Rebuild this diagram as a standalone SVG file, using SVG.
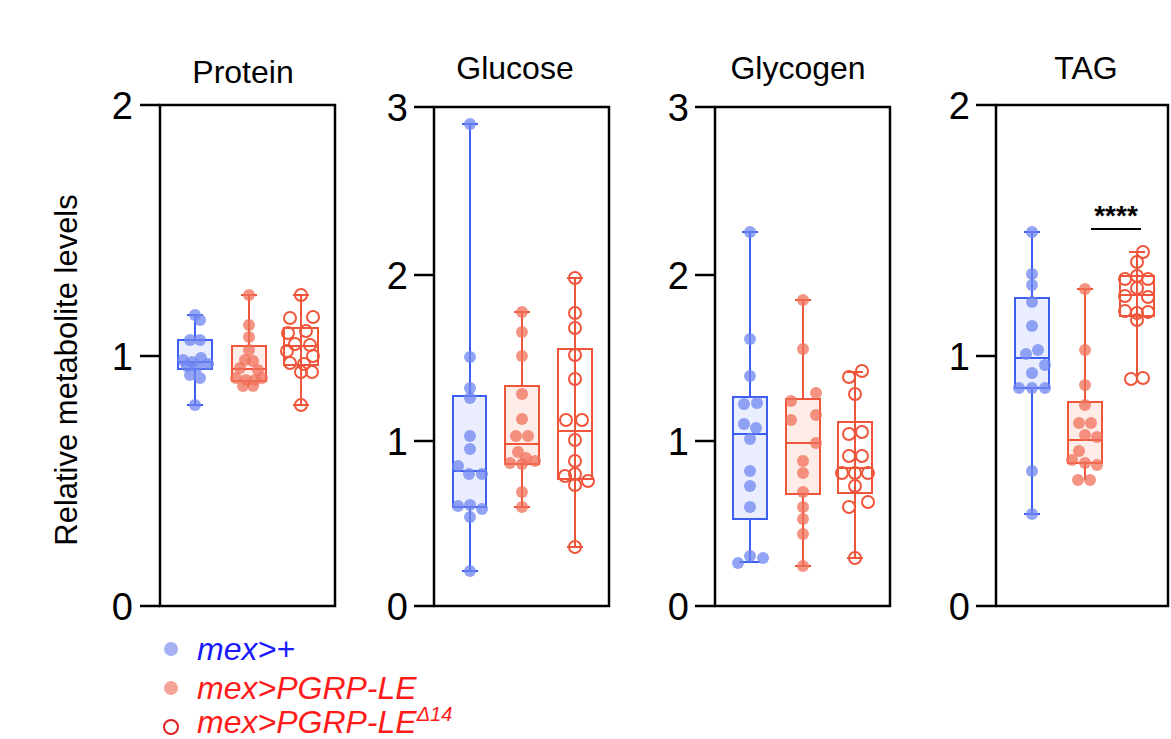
<svg xmlns="http://www.w3.org/2000/svg" width="1171" height="739" viewBox="0 0 1171 739">
<style>
text{font-family:"Liberation Sans",Arial,sans-serif;fill:#000}
.t{font-size:32px;text-anchor:middle}
.y{font-size:31px;text-anchor:middle}
.k{font-size:38px;text-anchor:end}
.ax{stroke:#000;stroke-width:2.5;fill:none}
.bb{stroke:#3d5ef2;stroke-width:2;fill:#e9edfd}
.rb{stroke:#f0553a;stroke-width:2;fill:#fdece7}
.ob{stroke:#f0553a;stroke-width:2;fill:none}
.bl{stroke:#3d5ef2;stroke-width:2}
.rl{stroke:#f0553a;stroke-width:2}
.bd{fill:#6f86f0;fill-opacity:0.75}
.rd{fill:#f0705a;fill-opacity:0.75}
.od{fill:none;stroke:#f0553a;stroke-width:2}
</style>
<rect width="1171" height="739" fill="#fff"/>
<text x="77" y="370" class="y" transform="rotate(-90 77 370)">Relative metabolite levels</text>

<g id="protein">
<text x="243" y="83" class="t">Protein</text>
<rect x="160" y="105" width="175" height="501" class="ax"/>
<path d="M140 105H160M140 356H160M140 606H160" class="ax"/>
<text x="133" y="119" class="k">2</text><text x="133" y="370" class="k">1</text><text x="133" y="620" class="k">0</text>
<path d="M195 315V405M187 315H203M187 405H203" class="bl"/><rect x="178" y="340" width="34" height="29" class="bb"/><path d="M178 362H212" class="bl"/>
<g class="bd"><circle cx="195" cy="315" r="6"/><circle cx="200" cy="320" r="6"/><circle cx="190" cy="340" r="6"/><circle cx="200" cy="340" r="6"/><circle cx="183" cy="360" r="6"/><circle cx="192" cy="362" r="6"/><circle cx="201" cy="358" r="6"/><circle cx="208" cy="364" r="6"/><circle cx="187" cy="366" r="6"/><circle cx="197" cy="367" r="6"/><circle cx="190" cy="375" r="6"/><circle cx="200" cy="378" r="6"/><circle cx="195" cy="405" r="6"/></g>
<path d="M249 295V386M241 295H257" class="rl"/><rect x="232" y="346" width="34" height="35" class="rb"/><path d="M232 369H266" class="rl"/>
<g class="rd"><circle cx="249" cy="295" r="6"/><circle cx="249" cy="325" r="6"/><circle cx="249" cy="337" r="6"/><circle cx="249" cy="350" r="6"/><circle cx="245" cy="360" r="6"/><circle cx="253" cy="361" r="6"/><circle cx="240" cy="368" r="6"/><circle cx="258" cy="370" r="6"/><circle cx="236" cy="378" r="6"/><circle cx="246" cy="380" r="6"/><circle cx="255" cy="380" r="6"/><circle cx="262" cy="378" r="6"/><circle cx="243" cy="386" r="6"/><circle cx="253" cy="386" r="6"/></g>
<path d="M301 295V405M293 295H309M293 405H309" class="rl"/><rect x="284" y="328" width="34" height="37" class="ob"/><path d="M284 346H318" class="rl"/>
<g class="od"><circle cx="301" cy="295" r="6"/><circle cx="290" cy="318" r="6"/><circle cx="313" cy="317" r="6"/><circle cx="288" cy="333" r="6"/><circle cx="306" cy="331" r="6"/><circle cx="295" cy="344" r="6"/><circle cx="310" cy="345" r="6"/><circle cx="287" cy="351" r="6"/><circle cx="313" cy="356" r="6"/><circle cx="290" cy="363" r="6"/><circle cx="304" cy="364" r="6"/><circle cx="301" cy="372" r="6"/><circle cx="312" cy="372" r="6"/><circle cx="301" cy="405" r="6"/></g>
</g>

<g id="glucose">
<text x="515" y="79" class="t">Glucose</text>
<rect x="434" y="107" width="175" height="499" class="ax"/>
<path d="M414 107H434M414 275H434M414 441H434M414 606H434" class="ax"/>
<text x="408" y="121" class="k">3</text><text x="408" y="289" class="k">2</text><text x="408" y="455" class="k">1</text><text x="408" y="620" class="k">0</text>
<path d="M470 124V571M462 124H478M462 571H478" class="bl"/><rect x="453" y="396" width="33" height="111" class="bb"/><path d="M453 471H486" class="bl"/>
<g class="bd"><circle cx="470" cy="124" r="6"/><circle cx="470" cy="357" r="6"/><circle cx="470" cy="388" r="6"/><circle cx="470" cy="398" r="6"/><circle cx="470" cy="436" r="6"/><circle cx="470" cy="449" r="6"/><circle cx="458" cy="466" r="6"/><circle cx="469" cy="474" r="6"/><circle cx="482" cy="474" r="6"/><circle cx="458" cy="506" r="6"/><circle cx="470" cy="505" r="6"/><circle cx="482" cy="509" r="6"/><circle cx="470" cy="517" r="6"/><circle cx="470" cy="571" r="6"/></g>
<path d="M522 312V507M514 312H530M514 507H530" class="rl"/><rect x="505" y="386" width="34" height="78" class="rb"/><path d="M505 444H539" class="rl"/>
<g class="rd"><circle cx="522" cy="312" r="6"/><circle cx="522" cy="332" r="6"/><circle cx="522" cy="356" r="6"/><circle cx="522" cy="394" r="6"/><circle cx="522" cy="419" r="6"/><circle cx="516" cy="436" r="6"/><circle cx="528" cy="436" r="6"/><circle cx="518" cy="452" r="6"/><circle cx="526" cy="458" r="6"/><circle cx="510" cy="463" r="6"/><circle cx="522" cy="464" r="6"/><circle cx="535" cy="461" r="6"/><circle cx="522" cy="492" r="6"/><circle cx="522" cy="507" r="6"/></g>
<path d="M575 278V547M567 278H583M567 547H583" class="rl"/><rect x="558" y="349" width="34" height="130" class="ob"/><path d="M558 431H592" class="rl"/>
<g class="od"><circle cx="575" cy="278" r="6"/><circle cx="575" cy="313" r="6"/><circle cx="575" cy="328" r="6"/><circle cx="575" cy="355" r="6"/><circle cx="575" cy="379" r="6"/><circle cx="566" cy="420" r="6"/><circle cx="582" cy="420" r="6"/><circle cx="575" cy="440" r="6"/><circle cx="575" cy="461" r="6"/><circle cx="565" cy="476" r="6"/><circle cx="575" cy="474" r="6"/><circle cx="588" cy="481" r="6"/><circle cx="575" cy="485" r="6"/><circle cx="575" cy="547" r="6"/></g>
</g>

<g id="glycogen">
<text x="798" y="79" class="t">Glycogen</text>
<rect x="715" y="107" width="175" height="499" class="ax"/>
<path d="M695 107H715M695 275H715M695 441H715M695 606H715" class="ax"/>
<text x="689" y="121" class="k">3</text><text x="689" y="289" class="k">2</text><text x="689" y="455" class="k">1</text><text x="689" y="620" class="k">0</text>
<path d="M750 232V562M742 232H758M739 562H760" class="bl"/><rect x="733" y="397" width="34" height="122" class="bb"/><path d="M733 434H767" class="bl"/>
<g class="bd"><circle cx="750" cy="232" r="6"/><circle cx="750" cy="339" r="6"/><circle cx="750" cy="376" r="6"/><circle cx="744" cy="404" r="6"/><circle cx="757" cy="403" r="6"/><circle cx="744" cy="424" r="6"/><circle cx="756" cy="428" r="6"/><circle cx="750" cy="439" r="6"/><circle cx="750" cy="471" r="6"/><circle cx="750" cy="486" r="6"/><circle cx="750" cy="507" r="6"/><circle cx="750" cy="556" r="6"/><circle cx="738" cy="563" r="6"/><circle cx="763" cy="558" r="6"/></g>
<path d="M803 300V566M795 300H811M795 566H811" class="rl"/><rect x="786" y="399" width="34" height="95" class="rb"/><path d="M786 443H820" class="rl"/>
<g class="rd"><circle cx="803" cy="300" r="6"/><circle cx="803" cy="349" r="6"/><circle cx="816" cy="393" r="6"/><circle cx="791" cy="401" r="6"/><circle cx="791" cy="420" r="6"/><circle cx="816" cy="415" r="6"/><circle cx="816" cy="443" r="6"/><circle cx="803" cy="461" r="6"/><circle cx="803" cy="473" r="6"/><circle cx="803" cy="492" r="6"/><circle cx="803" cy="507" r="6"/><circle cx="803" cy="519" r="6"/><circle cx="803" cy="534" r="6"/><circle cx="803" cy="566" r="6"/></g>
<path d="M855 372V558M847 372H863M847 558H863" class="rl"/><rect x="838" y="422" width="34" height="71" class="ob"/><path d="M838 468H872" class="rl"/>
<g class="od"><circle cx="862" cy="371" r="6"/><circle cx="849" cy="377" r="6"/><circle cx="855" cy="394" r="6"/><circle cx="849" cy="434" r="6"/><circle cx="862" cy="432" r="6"/><circle cx="849" cy="456" r="6"/><circle cx="862" cy="456" r="6"/><circle cx="842" cy="473" r="6"/><circle cx="855" cy="473" r="6"/><circle cx="868" cy="473" r="6"/><circle cx="855" cy="486" r="6"/><circle cx="849" cy="507" r="6"/><circle cx="868" cy="502" r="6"/><circle cx="855" cy="558" r="6"/></g>
</g>

<g id="tag">
<text x="1086" y="79" class="t">TAG</text>
<rect x="996" y="105" width="172" height="501" class="ax"/>
<path d="M976 105H996M976 356H996M976 606H996" class="ax"/>
<text x="970" y="119" class="k">2</text><text x="970" y="370" class="k">1</text><text x="970" y="620" class="k">0</text>
<path d="M1032 232V514M1024 232H1040M1024 514H1040" class="bl"/><rect x="1015" y="298" width="34" height="90" class="bb"/><path d="M1015 358H1049" class="bl"/>
<g class="bd"><circle cx="1032" cy="232" r="6"/><circle cx="1032" cy="274" r="6"/><circle cx="1032" cy="285" r="6"/><circle cx="1032" cy="302" r="6"/><circle cx="1032" cy="326" r="6"/><circle cx="1038" cy="350" r="6"/><circle cx="1026" cy="354" r="6"/><circle cx="1045" cy="365" r="6"/><circle cx="1032" cy="373" r="6"/><circle cx="1019" cy="388" r="6"/><circle cx="1032" cy="388" r="6"/><circle cx="1045" cy="388" r="6"/><circle cx="1032" cy="471" r="6"/><circle cx="1032" cy="514" r="6"/></g>
<path d="M1085 289V480M1077 289H1093" class="rl"/><rect x="1068" y="402" width="34" height="61" class="rb"/><path d="M1068 440H1102" class="rl"/>
<g class="rd"><circle cx="1085" cy="289" r="6"/><circle cx="1085" cy="350" r="6"/><circle cx="1085" cy="385" r="6"/><circle cx="1085" cy="405" r="6"/><circle cx="1079" cy="423" r="6"/><circle cx="1091" cy="423" r="6"/><circle cx="1097" cy="437" r="6"/><circle cx="1085" cy="435" r="6"/><circle cx="1079" cy="451" r="6"/><circle cx="1072" cy="460" r="6"/><circle cx="1085" cy="463" r="6"/><circle cx="1097" cy="465" r="6"/><circle cx="1078" cy="480" r="6"/><circle cx="1090" cy="480" r="6"/></g>
<path d="M1137 252V380M1129 252H1145" class="rl"/><rect x="1120" y="276" width="34" height="40" class="ob"/><path d="M1120 295H1154" class="rl"/>
<g class="od"><circle cx="1143" cy="252" r="6"/><circle cx="1137" cy="262" r="6"/><circle cx="1137" cy="276" r="6"/><circle cx="1125" cy="279" r="6"/><circle cx="1148" cy="279" r="6"/><circle cx="1137" cy="288" r="6"/><circle cx="1125" cy="296" r="6"/><circle cx="1148" cy="297" r="6"/><circle cx="1125" cy="311" r="6"/><circle cx="1137" cy="313" r="6"/><circle cx="1148" cy="312" r="6"/><circle cx="1137" cy="320" r="6"/><circle cx="1131" cy="379" r="6"/><circle cx="1143" cy="378" r="6"/></g>
<path d="M1091 229H1141" stroke="#000" stroke-width="2"/>
<text x="1116" y="225" style="font-size:28px;text-anchor:middle;font-weight:bold">****</text>
</g>

<g id="legend" style="font-size:32px;font-style:italic">
<circle cx="171" cy="649" r="7" fill="#a5b1f4"/>
<text x="197" y="660" style="fill:#1a1aff">mex&gt;+</text>
<circle cx="171" cy="688" r="7" fill="#f4a496"/>
<text x="197" y="699" style="fill:#ff1a1a">mex&gt;PGRP-LE</text>
<circle cx="171" cy="727" r="7" fill="none" stroke="#e02020" stroke-width="2"/>
<text x="197" y="733" style="fill:#ff1a1a">mex&gt;PGRP-LE<tspan dy="-12" style="font-size:20px">Δ14</tspan></text>
</g>
</svg>
